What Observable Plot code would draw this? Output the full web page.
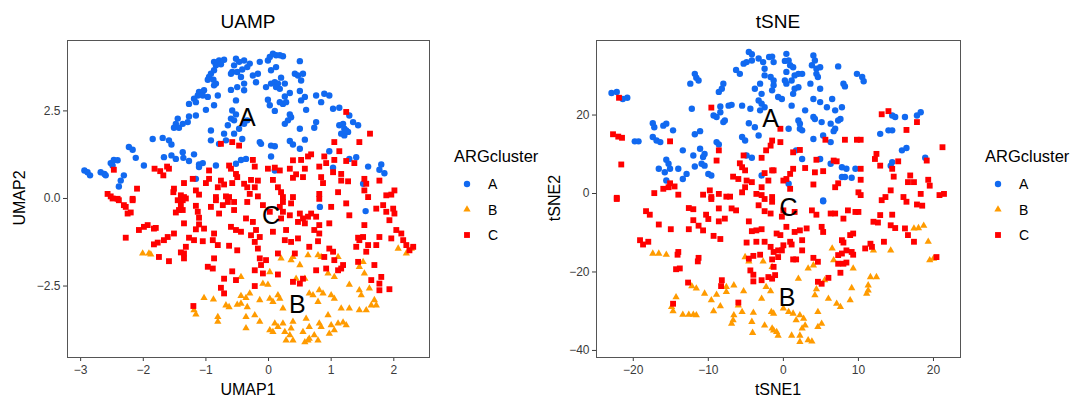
<!DOCTYPE html>
<html><head><meta charset="utf-8">
<script src="https://cdn.jsdelivr.net/npm/d3@7"></script>
<script src="https://cdn.jsdelivr.net/npm/@observablehq/plot@0.6"></script>
<style>
body{margin:0;background:#fff;}
#wrap{position:relative;width:1075px;height:400px;overflow:hidden;background:#fff}
#wrap svg{position:absolute;top:0}
</style></head><body><div id="wrap"></div>
<script>
// ---------- DATA ----------
const clusters = ["A", "B", "C"];
const clusterColors = ["#1169f0", "#ff9b00", "#ff0000"];
const clusterSymbols = ["circle", "triangle", "square"];

const umapTicksX = [-3, -2, -1, 0, 1, 2];
const umapTicksY = [-2.5, 0, 2.5];
const tsneTicksX = [-20, -10, 0, 10, 20];
const tsneTicksY = [-40, -20, 0, 20];

const umapLabelPos = [["A", -0.34, 2.29], ["C", 0.04, -0.50], ["B", 0.46, -3.03]];
const tsneLabelPos = [["A", -1.7, 19.1], ["C", 0.7, -3.8], ["B", 0.5, -26.6]];

const umapA = [[-0.87,3.90],[-0.79,3.94],[-0.71,3.96],[-0.84,3.80],[-0.76,3.83],[-0.87,3.66],[-0.92,3.56],[-0.95,3.47],[-0.97,3.39],[-0.88,3.39],[-0.84,3.28],[-0.87,3.23],[-1.03,3.09],[-1.11,3.04],[-1.13,2.94],[-1.19,2.85],[-1.16,2.75],[-1.27,2.70],[-1.05,2.94],[-0.97,2.90],[-0.87,2.66],[-1.00,2.53],[-0.81,2.94],[-0.52,3.99],[-0.47,3.90],[-0.39,3.94],[-0.55,3.80],[-0.58,3.61],[-0.50,3.61],[-0.42,3.68],[-0.34,3.75],[-0.60,3.56],[-0.44,3.47],[-0.39,3.28],[-0.50,3.18],[-0.60,3.10],[-0.39,3.09],[-0.52,2.80],[-0.58,2.51],[-0.52,2.40],[-0.60,2.28],[-0.55,2.23],[-0.65,2.09],[-0.92,1.94],[-0.71,1.85],[-0.55,1.85],[-0.47,1.99],[-0.39,2.13],[-0.34,2.23],[-0.42,1.70],[-0.92,1.66],[-0.79,1.56],[-0.68,1.66],[-1.45,2.28],[-1.48,2.13],[-1.51,2.02],[-1.43,2.02],[-1.37,2.13],[-1.29,2.18],[-1.16,2.37],[-1.27,2.34],[-1.85,1.70],[-1.69,1.73],[-1.59,1.66],[-1.55,1.54],[-2.23,1.47],[-2.17,1.39],[-2.12,1.16],[-1.99,0.94],[-1.67,1.18],[-1.55,1.23],[-1.48,1.13],[-1.37,1.32],[-1.36,1.16],[-1.27,1.07],[-1.19,1.26],[-1.11,0.97],[-1.05,1.01],[-1.11,0.90],[-0.84,0.94],[-2.47,1.10],[-2.41,1.09],[-2.52,1.01],[-2.49,0.94],[-2.68,0.75],[-2.62,0.70],[-2.60,0.66],[-2.94,0.80],[-2.89,0.75],[-2.85,0.66],[-2.31,0.66],[-2.36,0.51],[-2.39,0.34],[-1.16,0.56],[-0.52,0.99],[-0.44,1.10],[-0.36,1.13],
[-0.30,3.85],[-0.25,3.51],[-0.17,3.56],[-0.14,3.90],[-0.01,3.94],[0.02,4.04],[0.07,4.13],[0.12,4.09],[0.18,4.09],[0.23,4.06],[0.12,3.75],[0.04,3.66],[-0.20,3.32],[-0.04,3.18],[0.04,3.28],[0.10,3.32],[0.15,3.28],[0.20,3.45],[0.26,3.28],[0.12,3.18],[0.18,3.13],[0.50,3.92],[0.42,3.56],[0.47,3.51],[0.55,3.56],[0.52,3.37],[0.34,3.01],[0.50,3.07],[0.58,2.90],[0.52,2.80],[0.26,2.91],[0.18,2.75],[0.23,2.70],[0.28,2.75],[-0.01,2.82],[0.02,2.66],[0.10,2.50],[0.60,2.53],[0.34,2.40],[0.36,2.32],[0.31,2.23],[0.26,2.13],[0.50,1.99],[0.76,2.18],[0.73,2.02],[0.76,2.94],[0.84,2.75],[0.89,2.99],[0.97,2.94],[1.03,2.56],[1.13,2.59],[1.29,2.37],[1.35,2.18],[1.43,2.09],[1.13,2.09],[1.19,2.13],[1.21,1.99],[1.27,1.90],[1.21,1.80],[1.16,1.85],[1.24,1.94],[-0.14,1.61],[-0.12,1.56],[0.04,1.51],[0.10,1.49],[0.34,1.64],[0.39,1.54],[0.58,1.68],[0.50,1.42],[0.04,1.20],[0.97,1.35],[1.29,1.13],[1.40,1.18],[1.59,0.91],[1.80,0.97],[1.77,0.82],[1.85,0.72],[1.03,0.88],[0.10,0.80],[1.51,0.42],
[0.82,-0.24],[1.55,-0.36]];

const umapB = [[-2.01,-1.57],[-1.91,-1.57],[-1.88,-1.60],[-1.03,-2.84],[-0.88,-2.88],[-0.68,-3.05],[-0.63,-3.10],[-0.50,-3.03],[-0.44,-3.00],[-0.44,-2.78],[-0.36,-2.84],[-0.34,-3.10],[-0.44,-2.24],[-1.19,-3.19],[-1.16,-3.31],[-0.81,-3.38],[-0.81,-3.52],[-0.36,-3.38],[-0.36,-3.70],
[0.20,-1.71],[0.36,-1.76],[0.39,-1.67],[0.50,-1.90],[0.63,-1.62],[0.79,-1.62],[0.84,-1.67],[1.11,-1.67],[0.95,-2.14],[1.05,-2.24],[1.51,-1.81],[1.45,-1.95],[1.53,-2.14],[2.07,-1.43],[2.20,-1.57],[2.28,-1.43],[0.02,-2.10],[-0.09,-2.43],[-0.01,-2.46],[0.44,-2.29],[0.58,-2.29],[-0.30,-2.71],[-0.14,-2.90],[0.02,-2.86],[0.07,-2.95],[0.15,-2.76],[0.18,-2.86],[0.23,-3.14],[0.65,-2.71],[0.71,-2.76],[0.81,-2.62],[0.87,-2.71],[1.00,-2.76],[1.05,-2.86],[0.79,-2.95],[1.29,-2.46],[1.45,-2.62],[1.48,-2.76],[1.61,-2.57],[1.16,-3.14],[1.29,-3.14],[1.45,-3.19],[1.56,-3.19],[1.64,-3.05],[1.69,-2.90],[1.72,-3.05],[-0.22,-3.33],[-0.14,-3.52],[0.60,-3.43],[0.95,-3.33],[0.39,-3.52],[0.10,-3.57],[0.23,-3.57],[0.15,-3.67],[0.02,-3.76],[0.07,-3.81],[0.36,-3.71],[0.26,-3.81],[0.55,-3.81],[0.65,-3.67],[0.81,-3.57],[0.84,-3.67],[1.00,-3.62],[1.11,-3.57],[1.19,-3.54],[1.24,-3.62],[1.05,-3.76],[0.97,-3.86],[0.73,-3.90],[0.65,-4.00],[0.58,-4.10],[0.63,-4.05],[0.28,-4.05],[0.39,-4.05],[0.79,-4.05],[0.34,-3.90]];

const umapC = [[-2.47,0.82],[-1.82,0.85],[-1.73,0.78],[-1.68,0.66],[-1.62,0.91],[-1.59,0.85],[-2.10,0.28],[-2.57,0.13],[-2.52,0.06],[-2.41,-0.01],[-2.17,-0.01],[-1.51,0.28],[-1.52,0.18],[-1.40,0.09],[-1.35,0.04],[-1.35,0.44],[-1.21,0.56],[-1.16,0.23],[-1.11,0.11],[-1.00,0.44],[-0.95,0.56],[-0.81,0.32],[-0.76,0.51],[-0.71,0.40],[-0.68,0.06],[-0.63,0.04],[-0.58,0.44],[-0.52,0.70],[-0.60,0.85],[-0.63,0.94],[-0.50,0.61],[-0.39,0.42],[-0.34,0.32],[-0.76,1.56],[-0.58,1.61],[-0.47,1.51],[-0.95,0.80],[-0.84,0.04],
[-0.25,1.10],[-0.22,0.91],[-0.01,0.85],[0.10,0.88],[0.18,0.80],[0.39,1.09],[0.52,1.10],[0.63,1.20],[0.68,1.26],[0.89,1.20],[0.92,1.01],[0.81,0.91],[1.05,1.10],[1.13,1.35],[1.24,1.07],[1.37,1.01],[1.05,1.61],[1.24,2.47],[1.45,1.61],[1.62,1.85],[0.34,0.85],[0.58,0.85],[0.44,0.69],[0.39,0.59],[0.55,0.61],[0.84,0.61],[0.87,0.44],[1.03,0.75],[1.16,0.70],[1.16,0.51],[1.27,0.49],[1.53,0.56],[1.56,0.42],[1.77,0.51],[1.88,0.09],[2.01,0.23],[1.96,0.11],[1.53,0.23],[1.59,0.04],[1.11,0.18],[0.81,0.13],[0.81,-0.01],[0.39,0.04],[0.23,0.04],[0.20,0.18],[0.15,0.32],[0.07,0.53],[-0.17,0.51],[-0.28,0.53],[-0.22,0.32],[-0.30,0.13],[-0.17,0.06],
[-2.49,0],[-2.39,-0.05],[-2.31,-0.19],[-2.28,-0.24],[-2.25,-0.43],[-2.20,-0.40],[-2.17,-0.05],[-2.07,-0.90],[-1.99,-0.81],[-1.93,-0.76],[-1.83,-0.86],[-1.80,-0.84],[-2.28,-1.12],[-1.83,-1.31],[-1.77,-1.26],[-1.67,-1.19],[-1.61,-1.10],[-1.51,-1.00],[-1.75,-1.67],[-1.59,-1.79],[-1.45,-0.05],[-1.37,-0.05],[-1.32,0],[-1.40,-0.19],[-1.43,-0.33],[-1.48,-0.40],[-1.37,-0.33],[-1.35,-0.71],[-1.40,-1.54],[-1.35,-1.57],[-1.35,-1.71],[-1.32,-1.38],[-1.27,-1.12],[-1.19,-1.19],[-1.16,-0.21],[-1.13,-0.38],[-1.11,-0.55],[-1.11,-0.74],[-1.16,-0.88],[-1.03,-0.86],[-1.05,-1.22],[-0.92,-0.24],[-0.84,-0.05],[-0.79,-0.43],[-0.73,-0.19],[-0.65,-0.10],[-0.55,-0.10],[-0.55,-0.33],[-0.87,-1.00],[-0.89,-1.19],[-0.81,-1.33],[-0.63,-1.35],[-0.50,-1.48],[-0.60,-0.81],[-0.52,-0.90],[-0.44,-0.95],[-0.36,-0.57],[-0.34,-0.10],[-0.87,-1.71],[-0.97,-1.95],[-0.89,-2.00],[-0.58,-2.08],[-0.52,-2.33],[-0.71,-2.29],[-0.76,-2.55],[-0.71,-2.71],[-1.20,-3.07],
[-0.09,-0.19],[0.02,-0.38],[0.18,-0.24],[0.23,-0.10],[0.36,-0.14],[0.23,-0.38],[0.20,-0.57],[0.34,-0.48],[0.50,-0.43],[0.47,-0.67],[0.55,-0.57],[0.58,-0.71],[0.63,-0.52],[0.68,-0.43],[0.76,-0.52],[0.81,-0.76],[0.73,-0.90],[0.81,-1.00],[1.00,-0.24],[0.97,-0.71],[1.24,-0.14],[1.29,-0.48],[1.53,-0.76],[1.72,-0.29],[1.83,-0.19],[1.88,-0.38],[1.93,-0.62],[2.01,-0.43],[1.99,-0.29],[2.04,-0.90],[2.12,-1.00],[2.15,-1.19],[2.20,-1.33],[2.31,-1.38],[2.25,-1.48],[1.96,-1.14],[1.77,-1.10],[1.72,-1.33],[1.59,-1.33],[1.56,-1.52],[1.40,-1.38],[1.45,-1.19],[1.51,-1.10],[1.43,-1.12],[-0.25,-0.67],[-0.20,-0.90],[-0.14,-1.10],[-0.22,-1.24],[-0.17,-1.43],[-0.14,-1.71],[-0.04,-1.76],[-0.12,-1.90],[-0.28,-1.05],[0.26,-1.19],[0.36,-1.24],[0.47,-1.14],[0.15,-1.57],[0.42,-1.57],[0.65,-1.38],[0.79,-1.22],[0.97,-1.43],[1.03,-1.52],[0.89,-1.67],[1.05,-1.76],[1.19,-1.90],[1.16,-2.00],[1.11,-2.05],[0.92,-2.00],[0.76,-2.05],[1.43,-1.81],[1.69,-1.90],[1.80,-2.24],[1.77,-2.43],[1.64,-2.33],[1.77,-2.62],[1.93,-2.59],[0.39,-2.38],[0.50,-2.43],[0.55,-2.29],[0.15,-2.17],[-0.22,-2.50],[-0.09,-2.14],[-0.22,-2.05],[0.07,-0.95],[0.28,-0.90]];

const tsneA = [[-22.9,25.6],[-22.2,25.9],[-21.4,24.1],[-20.8,24.4],[-12.4,28.0],[-11.8,30.5],[-11.6,29.5],[-11.3,28.8],[-12.2,21.6],[-17.4,17.9],[-17.2,16.9],[-16.0,17.3],[-15.6,17.8],[-14.7,16.1],[-17.4,14.4],[-16.9,13.5],[-16.4,13.1],[-19.8,13.3],[-19.3,13.3],[-11.8,15.1],[-11.1,15.9],[-13.4,11.0],[-12.0,9.7],[-11.1,11.4],[-10.7,9.3],[-10.5,10.1],[-10.9,7.6],[-11.8,6.9],[-10.5,7.1],[-16.6,6.3],[-15.6,8.6],[-15.3,7.6],[-15.1,6.3],[-14.0,6.3],[-15.8,5.4],[-15.6,3.3],[-12.9,5.0],[-13.4,3.7],[-10.0,5.0],[-9.6,4.6],[-8.9,13.1],[-8.6,12.5],[-8.9,19.5],[-9.3,19.9],[-8.4,20.7],[-8.4,22.2],[-7.3,22.4],[-6.9,22.6],[-5.5,22.4],[-4.4,21.6],[-7.8,18.6],[-8.0,18.2],[-8.6,25.9],[-8.2,26.7],[-8.0,28.0],[-5.5,14.4],[-5.1,13.5],[-4.6,17.9],[-3.3,14.8],[-4.9,9.7],[-4.2,9.1],[-2.9,4.6],[-6.3,31.5],[-5.8,30.5],[-5.3,33.1],[-4.9,33.5],[-4.2,33.9],[-4.6,36.1],[-4.2,35.5],[-3.3,34.4],[-2.7,33.5],[-1.9,34.8],[-1.5,34.9],[-2.5,31.8],[-2.5,30.1],[-1.7,29.7],[-3.1,28.0],[-3.8,26.7],[-2.9,25.4],[-3.3,23.7],[-2.9,22.9],[-2.5,22.0],[-1.5,26.3],[-1.3,27.6],[-3.1,21.2],[-3.8,16.9],
[-1.3,33.5],[0.4,35.6],[0.2,33.8],[0.9,32.7],[0.7,33.9],[1.3,32.2],[0.4,31.0],[1.5,30.1],[2.0,30.5],[2.5,30.5],[1.1,28.8],[0.2,28.8],[0.4,28.0],[-1.3,28.8],[1.5,26.7],[2.0,27.1],[1.3,25.4],[1.1,22.4],[-0.7,24.6],[-0.2,24.1],[4.0,35.2],[4.2,33.9],[3.8,32.7],[4.4,31.8],[4.4,30.5],[4.9,32.2],[4.6,29.7],[3.6,28.0],[4.9,26.7],[4.0,24.1],[4.9,23.3],[5.8,22.0],[6.5,24.1],[6.9,21.2],[7.8,22.0],[7.6,19.0],[7.3,18.6],[6.3,17.8],[6.9,16.5],[6.7,15.9],[5.1,18.2],[4.0,19.5],[4.2,19.0],[2.9,21.2],[2.0,18.6],[2.2,17.8],[2.5,16.1],[2.2,16.5],[5.3,14.8],[6.3,13.1],[4.0,13.9],[0.7,16.5],[7.3,32.4],[8.0,28.0],[8.2,27.3],[9.8,30.5],[10.5,29.7],[10.7,28.6],[14.5,19.9],[14.9,19.5],[16.2,19.5],[17.8,19.9],[18.3,20.7],[14.0,16.1],[14.5,16.1],[12.9,15.2],[15.8,11.0],[16.4,11.6],[18.9,9.1],[14.5,8.0],[14.3,7.1],[7.8,6.7],[8.4,6.3],[9.6,6.3],[7.8,4.2],[8.2,4.2],[9.1,4.0],[6.3,7.6],[5.3,-1.8],[1.7,11.0],[2.5,8.8],[4.9,8.8],[0.7,2.5],[5.3,-2.0]];

const tsneB = [[-17.4,-15.3],[-16.6,-15.3],[-15.6,-15.6],[-5.1,-16.2],[-4.6,-17.3],[-2.7,-17.3],[-1.5,-18.7],[-12.2,-23.6],[-11.6,-24.2],[-10.5,-25.5],[-8.9,-25.8],[-9.6,-27.2],[-7.6,-23.8],[-7.6,-25.1],[-6.6,-23.4],[-5.3,-24.9],[-14.3,-26.4],[-14.9,-28.9],[-14.7,-30.0],[-13.4,-30.9],[-12.6,-30.9],[-12.0,-30.9],[-11.6,-31.0],[-8.4,-28.7],[-9.3,-30.0],[-6.0,-28.5],[-5.5,-30.2],[-6.6,-31.0],[-6.9,-33.2],[-6.7,-32.3],[-4.0,-30.4],[-4.2,-32.7],[-4.1,-35.5],[-2.9,-26.8],[-2.3,-23.8],[-1.7,-24.9],[-2.5,-33.6],[-1.5,-34.4],[-1.6,-30.2],
[6.5,-14.0],[6.7,-17.0],[12.0,-14.5],[14.3,-14.5],[19.3,-12.3],[17.4,-8.9],[18.0,-8.8],[18.7,-8.2],[19.5,-17.0],[20.0,-16.6],[3.3,-19.1],[4.0,-18.3],[2.0,-21.7],[5.5,-22.1],[9.3,-19.1],[11.6,-21.3],[12.4,-21.3],[9.1,-24.1],[11.3,-23.4],[11.3,-24.7],[11.1,-25.5],[4.4,-24.4],[4.2,-25.9],[6.0,-26.8],[7.1,-28.1],[7.6,-28.9],[8.9,-27.2],[4.6,-30.2],[-1.3,-30.6],[0.0,-29.3],[0.7,-30.2],[1.3,-30.6],[2.2,-31.0],[2.7,-31.9],[1.7,-32.3],[2.9,-33.6],[2.5,-34.4],[4.6,-34.0],[5.1,-33.2],[1.1,-36.2],[2.2,-36.2],[3.3,-37.4],[3.8,-37.7],[2.2,-37.8],[-0.9,-35.3],[-0.7,-36.2],[-1.3,-34.9]];

const tsneC = [[-21.9,24.4],[-9.6,21.9],[-22.7,15.1],[-22.0,14.5],[-21.5,14.2],[-15.1,13.3],[-8.6,11.0],[-8.9,8.4],[-21.6,7.4],[-5.3,9.7],[-2.9,9.1],[-2.3,11.0],[-1.7,12.2],[-1.5,13.5],[-5.8,7.7],[-5.5,6.7],[-5.1,5.9],[-6.7,4.3],[-6.0,3.7],[-4.9,3.3],[-4.2,2.9],[-5.1,1.6],[-5.5,0.3],[-3.6,-0.1],[-2.9,-0.4],[-2.9,1.6],[-2.5,5.2],[-1.5,5.9],[-2.0,3.3],[-15.1,2.6],[-15.3,1.6],[-16.0,1.2],[-14.5,1.8],[-14.0,-0.3],[-17.2,0.1],[-22.2,-1.1],[-10.7,-0.3],[-9.8,0.8],[-9.6,-0.9],[-8.6,-0.1],[-7.6,-0.8],[-7.1,-0.8],[-1.5,-0.9],
[-0.4,16.5],[-0.4,13.1],[1.3,10.5],[2.2,11.1],[5.6,13.7],[8.2,13.7],[9.8,13.7],[10.3,13.7],[13.1,20.2],[14.0,21.0],[16.4,16.2],[17.8,18.2],[21.2,11.8],[12.4,10.1],[12.2,8.8],[12.9,7.1],[15.3,8.2],[14.5,6.3],[14.7,4.3],[16.9,4.6],[17.4,2.9],[16.6,2.9],[19.1,8.4],[19.3,3.5],[19.5,2.0],[18.3,-0.1],[20.8,-0.4],[21.4,-0.1],[16.0,-0.9],[14.3,0.8],[13.6,-0.9],[10.3,6.3],[10.3,3.5],[10.0,0.3],[10.3,-0.4],[6.7,8.4],[7.1,8.2],[4.4,8.6],[4.2,5.4],[5.3,5.7],[2.9,6.5],[4.0,2.3],[6.9,1.6],[7.3,2.6],[0.9,5.0],[1.3,6.3],[0.4,3.7],[0.9,1.2],[-1.3,5.9],[0.0,3.3],
[-22.2,-1.4],[-18.3,-4.5],[-17.8,-5.4],[-16.6,-7.9],[-15.0,-9.1],[-19.1,-11.9],[-18.7,-13.0],[-18.0,-12.3],[-12.6,-3.7],[-12.0,-4.0],[-12.0,-6.8],[-11.3,-8.2],[-10.7,-9.4],[-12.6,-9.1],[-10.3,-5.4],[-10.0,-6.5],[-9.6,-1.4],[-8.6,-3.8],[-7.8,-6.4],[-8.6,-7.1],[-6.9,-3.8],[-6.3,-4.3],[-9.3,-10.8],[-8.4,-11.6],[-4.6,-7.1],[-4.2,-9.6],[-3.6,-9.4],[-2.9,-9.1],[-3.3,-3.0],[-2.5,-4.5],[-1.7,-5.1],[-1.5,-2.1],[-2.5,-1.4],[-4.9,-12.5],[-3.6,-12.3],[-2.5,-12.3],[-1.7,-13.6],[-14.0,-14.9],[-14.1,-15.6],[-11.3,-16.4],[-11.4,-17.3],[-14.3,-19.3],[-13.8,-19.1],[-12.7,-22.7],[-8.2,-22.1],[-8.3,-23.6],[-4.6,-16.6],[-4.0,-15.9],[-3.1,-15.6],[-1.5,-16.8],[-4.4,-19.6],[-4.0,-20.7],[-4.0,-22.4],[-2.9,-22.1],[-2.0,-21.3],[-1.5,-21.7],[-14.7,-28.1],[-6.0,-27.8],
[3.8,-4.3],[4.4,-5.4],[6.3,-5.1],[6.9,-5.1],[8.0,-6.4],[8.6,-4.3],[9.6,-4.7],[10.0,-4.7],[12.9,-5.5],[14.5,-5.4],[12.0,-7.2],[12.6,-7.4],[14.3,-8.1],[14.9,-8.8],[16.2,-8.9],[16.6,-10.6],[17.4,-12.3],[20.4,-16.2],[5.1,-8.5],[5.3,-9.8],[3.1,-8.9],[2.2,-9.4],[1.5,-9.8],[0.4,-8.5],[-0.4,-10.6],[-0.9,-10.2],[0.9,-12.3],[1.1,-13.0],[2.5,-11.9],[2.5,-14.5],[0.0,-13.2],[-0.7,-14.5],[-1.3,-14.9],[-0.7,-16.2],[-0.2,-14.5],[1.3,-16.8],[1.7,-16.8],[4.0,-16.4],[4.6,-17.4],[7.3,-15.7],[7.8,-15.3],[8.4,-14.5],[9.1,-14.9],[9.3,-15.6],[7.3,-17.9],[8.0,-17.9],[8.4,-17.6],[8.9,-10.6],[9.3,-10.2],[7.8,-11.9],[8.0,-12.5],[10.9,-14.0],[11.6,-12.8],[11.8,-13.6],[13.4,-12.3],[7.6,-20.2],[6.0,-21.5],[4.6,-22.5],[5.1,-23.0],[-1.1,-20.8],[-1.3,-18.7],[0.0,-4.3],[-0.2,-5.9],[1.5,-4.7],[13.1,-1.7],[16.4,-2.1],[17.8,-2.8],[18.5,-3.1]];

// ---------- DRAW ----------
const FONT = "'Liberation Sans', Arial, Helvetica, sans-serif";
const wrap = document.getElementById("wrap");
const toRows = (arr, c) => arr.map(([x, y]) => ({x, y, cluster: c}));

function panel(opts) {
  const sets = [opts.A, opts.B, opts.C];
  const sizes = [3.2, 2.7, 3.3];
  const chart = Plot.plot({
    width: opts.width, height: 400,
    marginLeft: opts.mL, marginRight: opts.mR, marginTop: 40, marginBottom: 43,
    x: {domain: opts.xDomain, label: null},
    y: {domain: opts.yDomain, label: null},
    style: {fontFamily: FONT, fontSize: "12px", color: "#3a3a3a", background: "transparent", overflow: "visible"},
    marks: [
      Plot.axisX(opts.xTicks, {tickSize: 4, tickPadding: 4, label: null, fontSize: 12}),
      Plot.axisY(opts.yTicks, {tickSize: 4, tickPadding: 3, label: null, fontSize: 12, tickFormat: opts.yFormat}),
      ...sets.map((s, i) => Plot.dot(toRows(s, clusters[i]), {
        x: "x", y: "y", symbol: clusterSymbols[i], r: sizes[i], fill: clusterColors[i], stroke: "none"
      })),
      Plot.text(opts.labels.map(([t, x, y]) => ({t, x, y})), {
        x: "x", y: "y", text: "t", fontSize: 25, fill: "#000", fontFamily: FONT
      }),
      Plot.frame({stroke: "#555", strokeWidth: 1})
    ]
  });
  chart.style.left = opts.left + "px";
  wrap.appendChild(chart);
}

panel({A: umapA, B: umapB, C: umapC, labels: umapLabelPos,
  xDomain: [-3.21, 2.57], yDomain: [-4.54, 4.51], xTicks: umapTicksX, yTicks: umapTicksY,
  yFormat: d3.format(".1f"), left: 0, width: 540, mL: 67, mR: 111});
panel({A: tsneA, B: tsneB, C: tsneC, labels: tsneLabelPos,
  xDomain: [-24.9, 23.6], yDomain: [-41.8, 39.0], xTicks: tsneTicksX, yTicks: tsneTicksY,
  yFormat: d3.format("d"), left: 537, width: 538, mL: 59, mR: 115});

// titles, axis titles and legends
const ov = d3.select(wrap).append("svg").attr("width", 1075).attr("height", 400)
  .style("left", "0px").style("font-family", FONT).style("pointer-events", "none");
const texts = [
  {t: "UAMP", x: 248, y: 28, s: 19}, {t: "tSNE", x: 778, y: 28, s: 19},
  {t: "UMAP1", x: 248, y: 395, s: 16}, {t: "tSNE1", x: 778, y: 395, s: 16}
];
texts.forEach(d => ov.append("text").attr("x", d.x).attr("y", d.y).attr("text-anchor", "middle")
  .attr("font-size", d.s).attr("fill", "#000").text(d.t));
[{t: "UMAP2", x: 25}, {t: "tSNE2", x: 560}].forEach(d =>
  ov.append("text").attr("transform", `translate(${d.x},198) rotate(-90)`).attr("text-anchor", "middle")
    .attr("font-size", 16).attr("fill", "#000").text(d.t));

[454, 985].forEach(lx => {
  ov.append("text").attr("x", lx).attr("y", 162).attr("font-size", 16.5).attr("fill", "#000").text("ARGcluster");
  clusters.forEach((c, i) => {
    const cy = 184 + i * 25.5;
    const sz = [3.2, 2.7, 3.3][i];
    ov.append("path").attr("transform", `translate(${lx + 13},${cy})`)
      .attr("d", d3.symbol(i === 0 ? d3.symbolCircle : i === 1 ? d3.symbolTriangle : d3.symbolSquare, Math.PI * sz * sz)())
      .attr("fill", clusterColors[i]);
    ov.append("text").attr("x", lx + 34).attr("y", cy + 5).attr("font-size", 14).attr("fill", "#000").text(c);
  });
});
</script></body></html>
